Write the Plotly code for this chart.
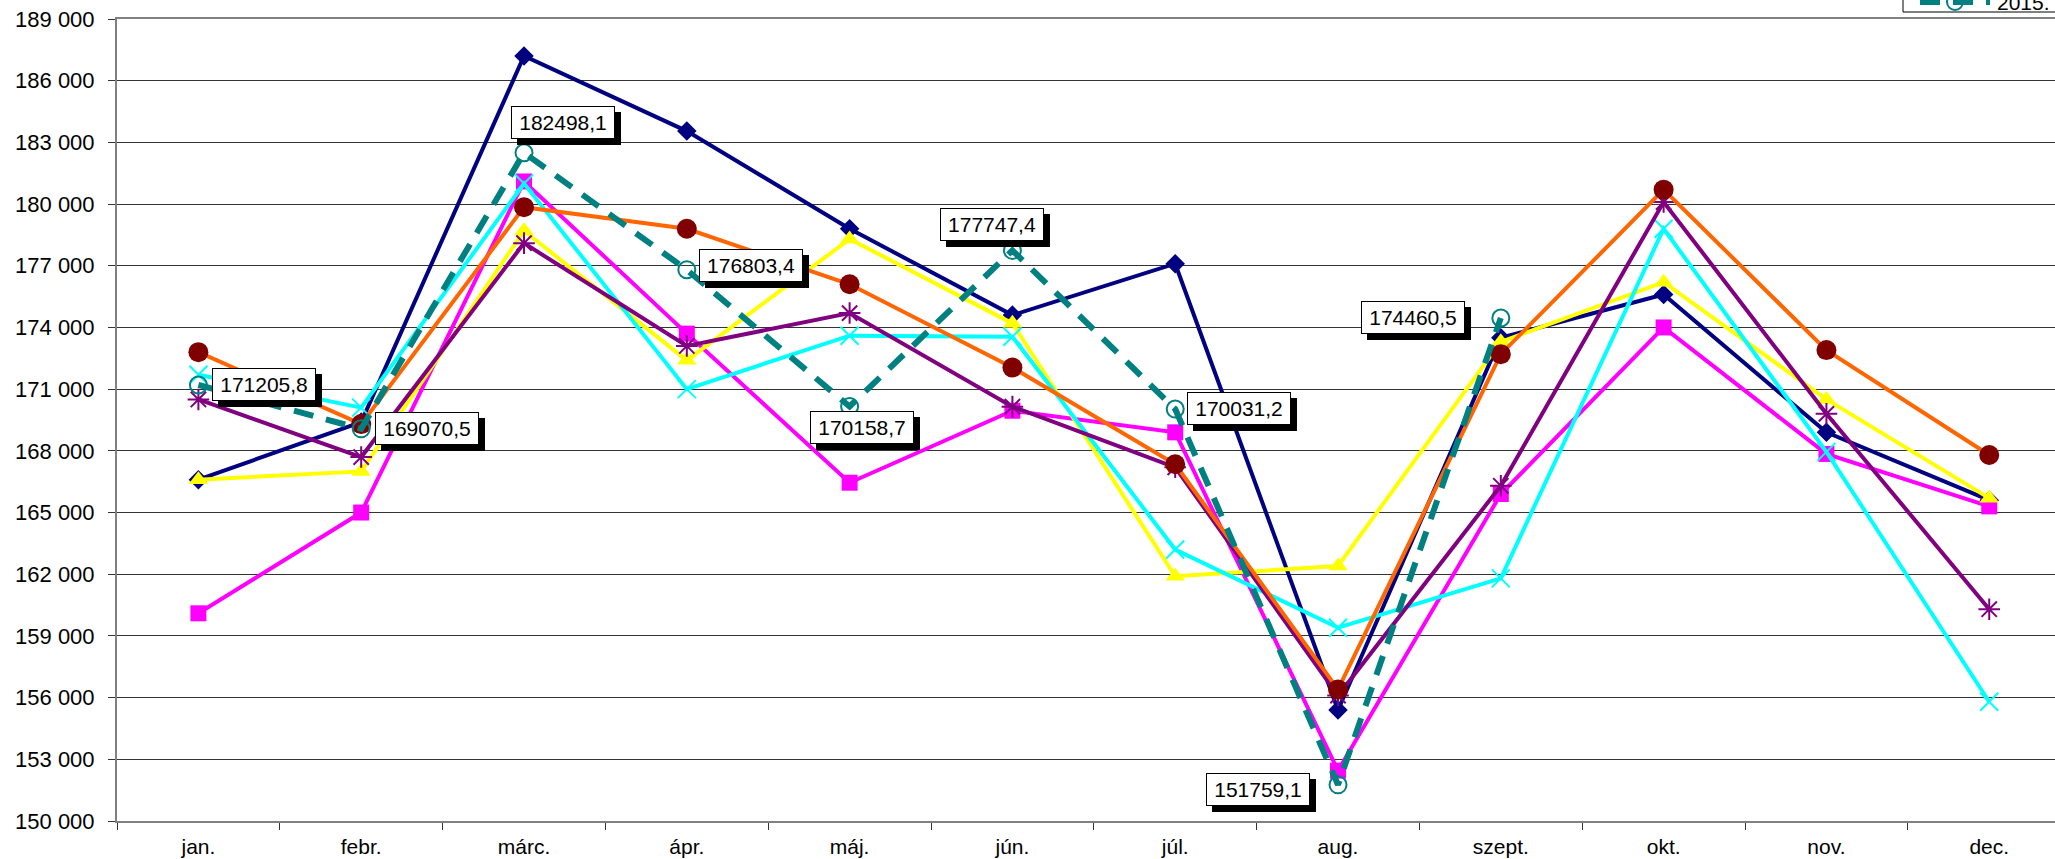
import plotly.graph_objects as go

# ---------------- data ----------------
months = ["jan.", "febr.", "márc.", "ápr.", "máj.", "jún.", "júl.", "aug.", "szept.", "okt.", "nov.", "dec."]
series_names = ["2009.", "2010.", "2011.", "2012.", "2013.", "2014.", "2015."]

y2009 = [166600, 169400, 187200, 183550, 178800, 174600, 177100, 155400, 173500, 175600, 168900, 165600]
y2010 = [160100, 165000, 181100, 173700, 166450, 169950, 168900, 152450, 165900, 174000, 167850, 165300]
y2011 = [166600, 167000, 178700, 172400, 178300, 174200, 161900, 162400, 173300, 176200, 170500, 165700]
y2012 = [171700, 170100, 181000, 171000, 173600, 173550, 163200, 159400, 161800, 178800, 167950, 155800]
y2013 = [170500, 167700, 178100, 173100, 174700, 170150, 167200, 156100, 166300, 180100, 169800, 160300]
y2014 = [172800, 169300, 179850, 178800, 176100, 172050, 167350, 156400, 172700, 180700, 172900, 167800]
y2015 = [171205.8, 169070.5, 182498.1, 176803.4, 170158.7, 177747.4, 170031.2, 151759.1, 174460.5, None, None, None]

y_ticks = list(range(150000, 189001, 3000))

# ---------------- styles ----------------
W, H = 2055, 859
ML, MR, MT, MB = 117, 0, 19, 38
PW, PH = W - ML - MR, H - MT - MB
font = "Liberation Sans, Arial, sans-serif"

styles = [
    dict(line=dict(color="#000080", width=4), marker=dict(symbol="diamond", size=15, color="#000080")),
    dict(line=dict(color="#FF00FF", width=4), marker=dict(symbol="square", size=16, color="#FF00FF")),
    dict(line=dict(color="#FFFF00", width=4), marker=dict(symbol="triangle-up", size=17, color="#FFFF00")),
    dict(line=dict(color="#00FFFF", width=4), marker=dict(symbol="x-thin-open", size=18, color="#00FFFF",
                                                          line=dict(color="#00FFFF", width=2))),
    dict(line=dict(color="#800080", width=4), marker=dict(symbol="asterisk-open", size=18, color="#800080",
                                                          line=dict(color="#800080", width=2))),
    dict(line=dict(color="#FF6600", width=4), marker=dict(symbol="circle", size=20, color="#800000")),
    dict(line=dict(color="#008080", width=6, dash="20px,13px"),
         marker=dict(symbol="circle-open", size=17, color="#008080", line=dict(color="#008080", width=2))),
]

all_series = [y2009, y2010, y2011, y2012, y2013, y2014, y2015]

fig = go.Figure()
for name, ys, st in zip(series_names, all_series, styles):
    fig.add_trace(go.Scatter(x=months, y=ys, name=name, mode="lines+markers",
                             line=st["line"], marker=st["marker"], connectgaps=False,
                             showlegend=False))

# data labels for 2015 (offsets in px: style only)
label_shift = [(66, 0), (66, 0), (39, 30), (64, 4), (12, -21), (-20, 26), (64, 1), (-80, -5), (-88, 0)]
for m, v, (dx, dy) in zip(months, y2015, label_shift):
    if v is None:
        continue
    txt = f"{v:.1f}".replace(".", ",")
    common = dict(x=m, y=v, xref="x", yref="y", showarrow=False, width=96, height=25,
                  borderpad=3, borderwidth=1, text=txt,
                  font=dict(family=font, size=21, color="black"))
    fig.add_annotation(xshift=dx + 6, yshift=dy - 6, bgcolor="black", bordercolor="black", **common)
    fig.add_annotation(xshift=dx, yshift=dy, bgcolor="white", bordercolor="black", **common)


# ---- legend (only its bottom is inside the picture) ----
def px(xp):
    return (xp - ML) / PW


def py(yp):
    return (H - MB - yp) / PH


fig.add_shape(type="rect", xref="paper", yref="paper", x0=px(1903), x1=px(2120), y0=py(12), y1=py(-60),
              line=dict(color="black", width=1), fillcolor="white", layer="above")
fig.add_shape(type="line", xref="paper", yref="paper", x0=px(1920), x1=px(1990), y0=py(2), y1=py(2),
              line=dict(color="#008080", width=6, dash="20px,13px"), layer="above")
fig.add_shape(type="circle", xref="paper", yref="paper", x0=px(1947), x1=px(1963), y0=py(-6), y1=py(10),
              line=dict(color="#008080", width=2), layer="above")
fig.add_annotation(xref="paper", yref="paper", x=px(1996), y=py(15), xanchor="left", yanchor="bottom",
                   text=series_names[-1], showarrow=False, borderpad=0,
                   font=dict(family=font, size=21, color="black"))

fig.update_layout(
    width=W, height=H,
    margin=dict(l=ML, r=MR, t=MT, b=MB, autoexpand=False),
    paper_bgcolor="white", plot_bgcolor="white",
    separators=", ",
    font=dict(family=font, size=21, color="black"),
    showlegend=False,
)
fig.update_xaxes(
    type="category", range=[-0.5, 11.404],
    showline=True, linecolor="#808080", linewidth=2, mirror=True,
    ticks="outside", tickson="boundaries", ticklen=7, tickcolor="#333333", tickwidth=1,
    ticklabelstandoff=6,
    showgrid=False, tickfont=dict(family=font, size=21, color="black"),
)
fig.update_yaxes(
    range=[150000, 189000], tickvals=y_ticks, tickformat=",d",
    showline=True, linecolor="#808080", linewidth=2,
    ticks="outside", ticklen=7, tickcolor="#333333", tickwidth=1,
    ticklabelstandoff=9,
    showgrid=True, gridcolor="#333333", gridwidth=1, zeroline=False,
    tickfont=dict(family=font, size=22, color="black"),
)

fig.write_html("out.html", config={"displayModeBar": False},
               post_script="document.body.style.margin='0px';")
